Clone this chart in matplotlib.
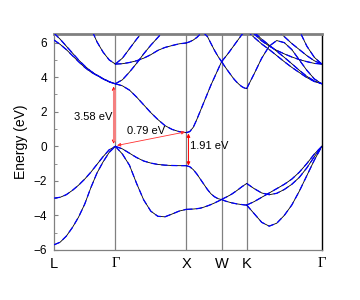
import numpy as np
import matplotlib
matplotlib.use("Agg")
import matplotlib.pyplot as plt
from matplotlib.ticker import MultipleLocator

matplotlib.rcParams['font.family'] = 'Liberation Sans'

# high-symmetry path (segment lengths in 2pi/a)
node_labels = ["L", "Γ", "X", "W", "K", "Γ"]
seg_lengths = [0.866, 1.0, 0.5, 0.354, 1.061]
t_grid = np.linspace(0, 1, 11)
nan = np.nan

# bands, energy (eV) at t_grid along each segment
bands_L_G = [
    [-3.0, -2.95, -2.8, -2.55, -2.25, -1.9, -1.5, -1.05, -0.6, -0.2, 0.0],
    [-5.7, -5.55, -5.2, -4.7, -4.1, -3.35, -2.4, -1.55, -0.9, -0.35, 0.0],
    [6.15, 5.9, 5.6, 5.25, 4.9, 4.57, 4.3, 4.1, 3.9, 3.72, 3.62],
    [6.55, 6.2, 5.8, 5.4, 5.0, 4.65, 4.35, 4.12, 3.92, 3.74, 3.62],
    [nan, nan, nan, nan, nan, 7.7, 6.85, 6.05, 5.45, 5.0, 4.76],
]
bands_G_X = [
    [0.0, -0.15, -0.4, -0.65, -0.85, -0.97, -1.05, -1.09, -1.11, -1.12, -1.12],
    [0.0, -0.45, -1.1, -2.15, -3.1, -3.75, -4.05, -4.08, -3.92, -3.75, -3.65],
    [3.62, 3.5, 3.25, 2.85, 2.4, 1.95, 1.55, 1.2, 0.98, 0.85, 0.79],
    [3.62, 3.85, 4.3, 4.8, 5.35, 5.85, 6.3, 6.75, nan, nan, nan],
    [4.76, 4.78, 4.85, 4.95, 5.1, 5.3, 5.55, 5.72, 5.83, 5.93, 5.98],
    [4.76, 5.1, 5.65, 6.2, 6.7, nan, nan, nan, nan, nan, nan],
]
bands_X_W = [
    [-1.12, -1.18, -1.35, -1.6, -1.9, -2.2, -2.5, -2.75, -2.92, -3.03, -3.08],
    [-3.65, -3.64, -3.63, -3.61, -3.58, -3.52, -3.45, -3.37, -3.28, -3.18, -3.08],
    [0.79, 0.85, 1.1, 1.55, 2.05, 2.55, 3.05, 3.55, 4.0, 4.45, 4.9],
    [5.98, 6.05, 6.15, 6.3, 6.5, 6.55, 6.35, 5.95, 5.55, 5.2, 4.9],
]
bands_W_K = [
    [-3.08, -3.0, -2.93, -2.85, -2.77, -2.67, -2.57, -2.46, -2.35, -2.25, -2.15],
    [-3.08, -3.14, -3.19, -3.23, -3.27, -3.3, -3.33, -3.35, -3.37, -3.39, -3.4],
    [4.9, 5.08, 5.26, 5.45, 5.65, 5.85, 6.05, 6.25, 6.45, 6.6, 6.7],
    [4.9, 4.68, 4.47, 4.27, 4.07, 3.88, 3.72, 3.58, 3.46, 3.38, 3.34],
]
bands_K_G = [
    [-2.15, -2.45, -2.7, -2.8, -2.72, -2.5, -2.2, -1.8, -1.25, -0.6, 0.0],
    [-3.4, -3.2, -2.95, -2.7, -2.45, -2.2, -1.9, -1.5, -1.0, -0.45, 0.0],
    [-3.4, -3.9, -4.4, -4.62, -4.45, -4.0, -3.4, -2.6, -1.7, -0.8, 0.0],
    [3.34, 4.2, 5.1, 5.8, 6.12, 6.0, 5.6, 5.0, 4.4, 3.9, 3.62],
    [6.7, 6.3, 5.92, 5.6, 5.25, 4.9, 4.57, 4.27, 3.98, 3.75, 3.62],
    [6.9, 6.6, 6.2, 5.85, 5.5, 5.15, 4.78, 4.4, 4.05, 3.78, 3.62],
    [7.0, 6.5, 6.1, 5.8, 5.55, 5.35, 5.17, 5.02, 4.9, 4.8, 4.76],
    [nan, nan, nan, 7.1, 6.75, 6.35, 5.95, 5.6, 5.25, 4.95, 4.76],
    [nan, nan, nan, nan, nan, nan, 7.5, 6.7, 5.8, 5.15, 4.76],
]
segments = [bands_L_G, bands_G_X, bands_X_W, bands_W_K, bands_K_G]

# gaps marked with arrows
gap_direct = 3.58
gap_indirect = 0.79
gap_X = 1.91
vbm_X = -1.12

nodes = np.concatenate([[0], np.cumsum(seg_lengths)])

fig = plt.figure(figsize=(3.6, 3.0), dpi=100)
ax = fig.add_axes([0.15, 0.1667, 0.744, 0.72])

for i, seg in enumerate(segments):
    k = nodes[i] + t_grid * seg_lengths[i]
    for e in seg:
        ax.plot(k, e, color="black", lw=0.6, zorder=2)
        ax.plot(k, e, color="blue", lw=0.9, ls=(0, (5, 3)), zorder=3)

for xn in nodes[1:-1]:
    ax.axvline(xn, color="#808080", lw=0.9, zorder=1)

ax.set_xlim(nodes[0], nodes[-1])
ax.set_ylim(-6, 6.5)

# arrows
kG, kX = nodes[1], nodes[2]
ax.annotate("", xy=(kG - 0.024, gap_direct - 0.12), xytext=(kG - 0.024, 0.15),
            arrowprops=dict(arrowstyle="<|-|>", color="red", lw=0.6,
                            mutation_scale=5, shrinkA=0, shrinkB=0), zorder=5)
ax.plot([kG - 0.024, kG - 0.024], [0.3, gap_direct - 0.27], color="#f48080",
        lw=2.2, zorder=6, solid_capstyle="butt")
ax.annotate("", xy=(kX - 0.015, gap_indirect + 0.04), xytext=(kG + 0.024, 0.05),
            arrowprops=dict(arrowstyle="<|-|>", color="#ff3030", lw=0.6,
                            mutation_scale=5, shrinkA=0, shrinkB=0), zorder=5)
ax.annotate("", xy=(kX + 0.032, vbm_X), xytext=(kX + 0.032, vbm_X + gap_X - 0.05),
            arrowprops=dict(arrowstyle="<|-|>", color="red", lw=0.7,
                            mutation_scale=5, shrinkA=0, shrinkB=0), zorder=5)

ax.text(kG - 0.04, 1.72, f"{gap_direct:.2f} eV", ha="right", va="center", fontsize=8)
ax.text(kG + 0.43, 0.9, f"{gap_indirect:.2f} eV", ha="center", va="center", fontsize=8)
ax.text(kX + 0.056, 0.0, f"{gap_X:.2f} eV", ha="left", va="center", fontsize=8)

ax.set_xticks(nodes)
ax.set_xticklabels(node_labels, fontsize=10.5)
for lbl in ax.get_xticklabels():
    if lbl.get_text() == "Γ":
        lbl.set_fontfamily("Liberation Serif")
ax.tick_params(axis="x", length=0, pad=5)

ax.yaxis.set_major_locator(MultipleLocator(2))
ax.yaxis.set_minor_locator(MultipleLocator(1))
ax.tick_params(axis="y", which="both", direction="in", color="#808080", labelsize=8.5, pad=5)
ax.tick_params(axis="y", which="major", length=3)
ax.tick_params(axis="y", which="minor", length=2)
ax.set_ylabel("Energy (eV)", fontsize=10, labelpad=4)

for s in ["left", "bottom"]:
    ax.spines[s].set_color("#808080")
    ax.spines[s].set_linewidth(0.9)
ax.spines["top"].set_color("#808080")
ax.spines["top"].set_linewidth(2)
ax.spines["right"].set_color("black")
ax.spines["right"].set_linewidth(1)

fig.savefig("out.png", dpi=100)
